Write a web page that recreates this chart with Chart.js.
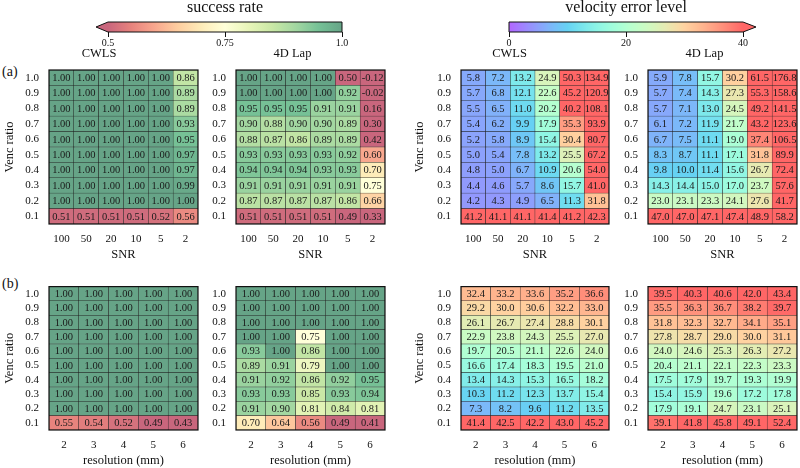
<!DOCTYPE html>
<html>
<head>
<meta charset="utf-8">
<script src="https://cdn.jsdelivr.net/npm/chart.js@4.4.1/dist/chart.umd.min.js"></script>
<style>
  html, body { margin: 0; padding: 0; background: #fff; }
  body { width: 800px; height: 468px; overflow: hidden; position: relative; font-family: "Liberation Serif", serif; }
  .pane { position: absolute; }
  .tag { position: absolute; font-size: 14px; color: #111; }
</style>
</head>
<body>
<div class="tag" style="left:2px;top:64px">(a)</div>
<div class="tag" style="left:2px;top:276px">(b)</div>
<script>
// rows are listed top to bottom: Venc ratio 1.0 ... 0.1
var vencRatios = ['0.1', '0.2', '0.3', '0.4', '0.5', '0.6', '0.7', '0.8', '0.9', '1.0'];
var snrLabels = ['100', '50', '20', '10', '5', '2'];
var resLabels = ['2', '3', '4', '5', '6'];
var successTicks = [0.5, 0.75, 1.0];
var successTickLabels = ['0.5', '0.75', '1.0'];
var errorTicks = [0, 20, 40];
var errorTickLabels = ['0', '20', '40'];

var cwlsSuccessSnr = [
  [1.00, 1.00, 1.00, 1.00, 1.00, 0.86],
  [1.00, 1.00, 1.00, 1.00, 1.00, 0.89],
  [1.00, 1.00, 1.00, 1.00, 1.00, 0.89],
  [1.00, 1.00, 1.00, 1.00, 1.00, 0.93],
  [1.00, 1.00, 1.00, 1.00, 1.00, 0.95],
  [1.00, 1.00, 1.00, 1.00, 1.00, 0.97],
  [1.00, 1.00, 1.00, 1.00, 1.00, 0.97],
  [1.00, 1.00, 1.00, 1.00, 1.00, 0.99],
  [1.00, 1.00, 1.00, 1.00, 1.00, 1.00],
  [0.51, 0.51, 0.51, 0.51, 0.52, 0.56]
];
var lapSuccessSnr = [
  [1.00, 1.00, 1.00, 1.00, 0.50, -0.12],
  [1.00, 1.00, 1.00, 1.00, 0.92, -0.02],
  [0.95, 0.95, 0.95, 0.91, 0.91, 0.16],
  [0.90, 0.88, 0.90, 0.90, 0.89, 0.30],
  [0.88, 0.87, 0.86, 0.89, 0.89, 0.42],
  [0.93, 0.93, 0.93, 0.93, 0.92, 0.60],
  [0.94, 0.94, 0.94, 0.93, 0.93, 0.70],
  [0.91, 0.91, 0.91, 0.91, 0.91, 0.75],
  [0.87, 0.87, 0.87, 0.87, 0.86, 0.66],
  [0.51, 0.51, 0.51, 0.51, 0.49, 0.33]
];
var cwlsErrorSnr = [
  [5.8, 7.2, 13.2, 24.9, 50.3, 134.9],
  [5.7, 6.8, 12.1, 22.6, 45.2, 120.9],
  [5.5, 6.5, 11.0, 20.2, 40.2, 108.1],
  [5.4, 6.2, 9.9, 17.9, 35.3, 93.9],
  [5.2, 5.8, 8.9, 15.4, 30.4, 80.7],
  [5.0, 5.4, 7.8, 13.2, 25.5, 67.2],
  [4.8, 5.0, 6.7, 10.9, 20.6, 54.0],
  [4.4, 4.6, 5.7, 8.6, 15.7, 41.0],
  [4.2, 4.3, 4.9, 6.5, 11.3, 31.8],
  [41.2, 41.1, 41.1, 41.4, 41.2, 42.3]
];
var lapErrorSnr = [
  [5.9, 7.8, 15.7, 30.2, 61.5, 176.8],
  [5.7, 7.4, 14.3, 27.3, 55.3, 158.6],
  [5.7, 7.1, 13.0, 24.5, 49.2, 141.5],
  [6.1, 7.2, 11.9, 21.7, 43.2, 123.6],
  [6.7, 7.5, 11.1, 19.0, 37.4, 106.5],
  [8.3, 8.7, 11.1, 17.1, 31.8, 89.9],
  [9.8, 10.0, 11.4, 15.6, 26.7, 72.4],
  [14.3, 14.4, 15.0, 17.0, 23.7, 57.6],
  [23.0, 23.1, 23.3, 24.1, 27.6, 41.7],
  [47.0, 47.0, 47.1, 47.4, 48.9, 58.2]
];
var cwlsSuccessRes = [
  [1.00, 1.00, 1.00, 1.00, 1.00],
  [1.00, 1.00, 1.00, 1.00, 1.00],
  [1.00, 1.00, 1.00, 1.00, 1.00],
  [1.00, 1.00, 1.00, 1.00, 1.00],
  [1.00, 1.00, 1.00, 1.00, 1.00],
  [1.00, 1.00, 1.00, 1.00, 1.00],
  [1.00, 1.00, 1.00, 1.00, 1.00],
  [1.00, 1.00, 1.00, 1.00, 1.00],
  [1.00, 1.00, 1.00, 1.00, 1.00],
  [0.55, 0.54, 0.52, 0.49, 0.43]
];
var lapSuccessRes = [
  [1.00, 1.00, 1.00, 1.00, 1.00],
  [1.00, 1.00, 1.00, 1.00, 1.00],
  [1.00, 1.00, 1.00, 1.00, 1.00],
  [1.00, 1.00, 0.75, 1.00, 1.00],
  [0.93, 1.00, 0.86, 1.00, 1.00],
  [0.89, 0.91, 0.79, 1.00, 1.00],
  [0.91, 0.92, 0.86, 0.92, 0.95],
  [0.93, 0.93, 0.85, 0.93, 0.94],
  [0.91, 0.90, 0.81, 0.84, 0.81],
  [0.70, 0.64, 0.56, 0.49, 0.41]
];
var cwlsErrorRes = [
  [32.4, 33.2, 33.6, 35.2, 36.6],
  [29.2, 30.0, 30.6, 32.2, 33.0],
  [26.1, 26.7, 27.4, 28.8, 30.1],
  [22.9, 23.8, 24.3, 25.5, 27.0],
  [19.7, 20.5, 21.1, 22.6, 24.0],
  [16.6, 17.4, 18.3, 19.5, 21.0],
  [13.4, 14.3, 15.3, 16.5, 18.2],
  [10.3, 11.2, 12.3, 13.7, 15.4],
  [7.3, 8.2, 9.6, 11.2, 13.5],
  [41.4, 42.5, 42.2, 43.0, 45.2]
];
var lapErrorRes = [
  [39.5, 40.3, 40.6, 42.0, 43.4],
  [35.5, 36.3, 36.7, 38.2, 39.7],
  [31.8, 32.3, 32.7, 34.1, 35.1],
  [27.8, 28.7, 29.0, 30.0, 31.1],
  [24.0, 24.6, 25.3, 26.3, 27.2],
  [20.4, 21.1, 22.1, 22.3, 23.3],
  [17.5, 17.9, 19.7, 19.3, 19.9],
  [15.4, 15.9, 19.6, 17.2, 17.8],
  [17.9, 19.1, 24.7, 23.1, 25.1],
  [39.1, 41.8, 45.8, 49.1, 52.4]
];

Chart.defaults.font.family = '"Liberation Serif", serif';
Chart.defaults.color = '#111';

// colour maps (matplotlib RdYlGn / rainbow, alpha 0.6 on white)
var rdylgn = [[165,0,38],[215,48,39],[244,109,67],[253,174,97],[254,224,139],[255,255,191],[217,239,139],[166,217,106],[102,189,99],[26,152,80],[0,104,55]];
function clamp(t) { return Math.max(0, Math.min(1, t)); }
function interp(stops, t) {
  t = clamp(t);
  var p = t * (stops.length - 1);
  var i = Math.min(Math.floor(p), stops.length - 2);
  var f = p - i;
  return stops[i].map(function (c, k) { return c + (stops[i + 1][k] - c) * f; });
}
function blend(c, a) {
  return 'rgb(' + c.map(function (v) { return Math.round(255 - (255 - v) * a); }).join(',') + ')';
}
function successColor(v) { return blend(interp(rdylgn, (v - 0.5) / 0.5), 0.6); }
function errorColor(v) {
  var t = clamp(v / 40);
  var c = [Math.abs(2 * t - 0.5), Math.sin(Math.PI * t), Math.cos(Math.PI * t / 2)];
  return blend(c.map(function (x) { return clamp(x) * 255; }), 0.6);
}

var cellText = {
  id: 'cellText',
  afterDatasetsDraw: function (chart) {
    var ctx = chart.ctx;
    ctx.save();
    ctx.font = '10.5px "Liberation Serif"';
    ctx.fillStyle = '#1a1a1a';
    ctx.textAlign = 'center';
    ctx.textBaseline = 'middle';
    chart.data.datasets.forEach(function (ds, di) {
      chart.getDatasetMeta(di).data.forEach(function (bar, i) {
        ctx.fillText(ds.vals[i].toFixed(ds.dec), bar.x, (bar.y + bar.base) / 2 + 0.5);
      });
    });
    var a = chart.chartArea;
    ctx.strokeStyle = '#111';
    ctx.lineWidth = 1.2;
    ctx.strokeRect(a.left, a.top, a.right - a.left, a.bottom - a.top);
    ctx.restore();
  }
};

function addCanvas(left, top, w, h) {
  var div = document.createElement('div');
  div.className = 'pane';
  div.style.left = left + 'px';
  div.style.top = top + 'px';
  div.style.width = w + 'px';
  div.style.height = h + 'px';
  var cv = document.createElement('canvas');
  cv.width = w;
  cv.height = h;
  div.appendChild(cv);
  document.body.appendChild(div);
  return cv;
}

var colX = [[49, 198], [236, 385], [461, 609], [648, 797]];
var rowY = [[70, 224], [276, 430]];
var yWidth = [49, 36, 51, 36];

var panels = [
  { m: cwlsSuccessSnr, cats: snrLabels, kind: 's', col: 0, row: 0, title: 'CWLS' },
  { m: lapSuccessSnr, cats: snrLabels, kind: 's', col: 1, row: 0, title: '4D Lap' },
  { m: cwlsErrorSnr, cats: snrLabels, kind: 'e', col: 2, row: 0, title: 'CWLS' },
  { m: lapErrorSnr, cats: snrLabels, kind: 'e', col: 3, row: 0, title: '4D Lap' },
  { m: cwlsSuccessRes, cats: resLabels, kind: 's', col: 0, row: 1 },
  { m: lapSuccessRes, cats: resLabels, kind: 's', col: 1, row: 1 },
  { m: cwlsErrorRes, cats: resLabels, kind: 'e', col: 2, row: 1 },
  { m: lapErrorRes, cats: resLabels, kind: 'e', col: 3, row: 1 }
];

panels.forEach(function (p) {
  var W = yWidth[p.col], T = p.row === 0 ? 24 : 6, B = 45, R = 3;
  var bx = colX[p.col], by = rowY[p.row];
  var cv = addCanvas(bx[0] - W, by[0] - T, W + (bx[1] - bx[0]) + R, T + (by[1] - by[0]) + B);
  var colorFn = p.kind === 's' ? successColor : errorColor;
  var datasets = [];
  for (var r = 0; r < vencRatios.length; r++) {
    var vals = p.m[vencRatios.length - 1 - r];
    datasets.push({
      label: vencRatios[r],
      data: vals.map(function () { return 1; }),
      vals: vals,
      dec: p.kind === 's' ? 2 : 1,
      backgroundColor: vals.map(colorFn),
      borderColor: '#222',
      borderWidth: 0.5,
      borderSkipped: false,
      barPercentage: 1,
      categoryPercentage: 1
    });
  }
  new Chart(cv, {
    type: 'bar',
    data: { labels: p.cats, datasets: datasets },
    options: {
      responsive: false,
      animation: false,
      devicePixelRatio: 1,
      layout: { padding: { left: 0, right: R, top: p.row === 0 ? 0 : T, bottom: 0 } },
      plugins: {
        legend: { display: false },
        tooltip: { enabled: false },
        title: {
          display: p.row === 0,
          text: p.title,
          color: '#111',
          font: { size: 12.5, weight: 'normal', lineHeight: 1 },
          padding: { top: 1, bottom: 10.5 }
        }
      },
      scales: {
        x: {
          stacked: true,
          grid: { display: false, drawTicks: false },
          border: { display: false },
          ticks: { padding: 9, font: { size: 11 }, maxRotation: 0, autoSkip: false },
          title: {
            display: true,
            text: p.row === 0 ? 'SNR' : 'resolution (mm)',
            font: { size: 12.5 },
            padding: { top: 0, bottom: 7 }
          },
          afterFit: function (s) { s.height = B; }
        },
        y: {
          stacked: true,
          min: 0,
          max: 10,
          grid: { display: false, drawTicks: false },
          border: { display: false },
          afterBuildTicks: function (s) {
            s.ticks = vencRatios.map(function (v, i) { return { value: i + 0.5 }; });
          },
          ticks: {
            padding: 10,
            autoSkip: false,
            font: { size: 11 },
            callback: function (value) { return vencRatios[Math.floor(value)]; }
          },
          title: {
            display: p.col === 0 || p.col === 2,
            text: 'Venc ratio',
            font: { size: 12.5 },
            padding: { top: 2, bottom: 0 }
          },
          afterFit: function (s) { s.width = W; }
        }
      }
    },
    plugins: [cellText]
  });
});

// colour bars
function colorBar(left, min, max, ticks, tickLabels, fn, title, arrowLeft) {
  var cv = addCanvas(left, 0, 350, 60);
  var bandFill = {
    id: 'bandFill',
    beforeDatasetsDraw: function (chart) {
      var ctx = chart.ctx, a = chart.chartArea;
      var g = ctx.createLinearGradient(a.left, 0, a.right, 0);
      for (var k = 0; k <= 60; k++) {
        g.addColorStop(k / 60, fn(min + (max - min) * k / 60));
      }
      var mid = (a.top + a.bottom) / 2;
      ctx.save();
      ctx.fillStyle = g;
      ctx.fillRect(a.left, a.top, a.right - a.left, a.bottom - a.top);
      ctx.beginPath();
      if (arrowLeft) {
        ctx.moveTo(a.left, a.top); ctx.lineTo(a.left - 12, mid); ctx.lineTo(a.left, a.bottom);
        ctx.fillStyle = fn(min);
      } else {
        ctx.moveTo(a.right, a.top); ctx.lineTo(a.right + 13, mid); ctx.lineTo(a.right, a.bottom);
        ctx.fillStyle = fn(max);
      }
      ctx.closePath();
      ctx.fill();
      ctx.beginPath();
      if (arrowLeft) {
        ctx.moveTo(a.left, a.top); ctx.lineTo(a.right, a.top); ctx.lineTo(a.right, a.bottom);
        ctx.lineTo(a.left, a.bottom); ctx.lineTo(a.left - 12, mid);
      } else {
        ctx.moveTo(a.left, a.top); ctx.lineTo(a.right, a.top); ctx.lineTo(a.right + 13, mid);
        ctx.lineTo(a.right, a.bottom); ctx.lineTo(a.left, a.bottom);
      }
      ctx.closePath();
      ctx.strokeStyle = '#111';
      ctx.lineWidth = 1;
      ctx.stroke();
      ctx.restore();
    }
  };
  new Chart(cv, {
    type: 'scatter',
    data: { datasets: [] },
    options: {
      responsive: false,
      animation: false,
      devicePixelRatio: 1,
      layout: { padding: { left: 58, right: 58, top: 0, bottom: 0 } },
      plugins: {
        legend: { display: false },
        tooltip: { enabled: false },
        title: {
          display: true,
          text: title,
          color: '#111',
          font: { size: 16, weight: 'normal', lineHeight: 1 },
          padding: { top: 0, bottom: 6 }
        }
      },
      scales: {
        x: {
          type: 'linear',
          min: min,
          max: max,
          grid: { drawOnChartArea: false, drawTicks: true, tickLength: 5, color: '#111' },
          border: { display: false },
          afterBuildTicks: function (s) {
            s.ticks = ticks.map(function (v) { return { value: v }; });
          },
          ticks: {
            padding: 1,
            autoSkip: false,
            maxRotation: 0,
            font: { size: 10, lineHeight: 1 },
            callback: function (v, i) { return tickLabels[i]; }
          },
          afterFit: function (s) { s.height = 28; }
        },
        y: { display: false, min: 0, max: 1 }
      }
    },
    plugins: [bandFill]
  });
}

colorBar(50, 0.5, 1.0, successTicks, successTickLabels, successColor, 'success rate', true);
colorBar(451, 0, 40, errorTicks, errorTickLabels, errorColor, 'velocity error level', false);
</script>
</body>
</html>
